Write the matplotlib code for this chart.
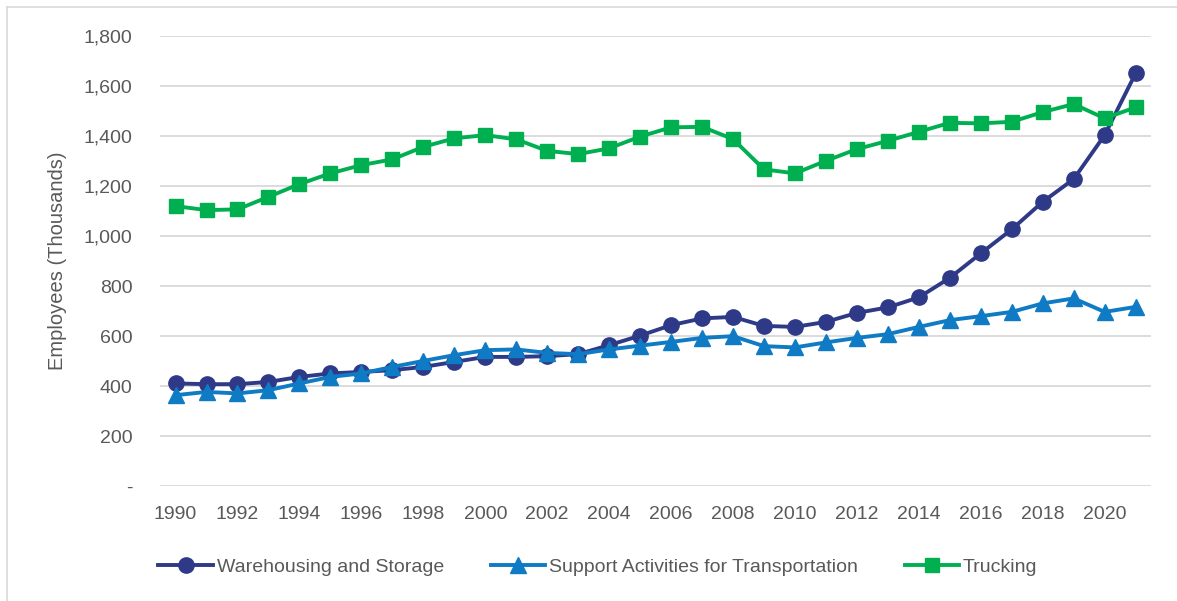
import matplotlib.pyplot as plt
from matplotlib.lines import Line2D
from matplotlib.ticker import FuncFormatter

plt.rcParams['font.family'] = ['Liberation Sans', 'DejaVu Sans']

years = list(range(1990, 2022))

warehousing = [411, 408, 408, 417, 437, 451, 457, 464, 477, 497, 517, 517, 520, 528, 564, 602,
               644, 671, 677, 641, 637, 657, 693, 715, 755, 833, 931, 1027, 1137, 1228, 1404, 1651]
support = [364, 377, 371, 384, 411, 437, 451, 477, 501, 524, 544, 547, 533, 528, 547, 562,
           577, 593, 600, 560, 555, 575, 593, 608, 637, 664, 680, 697, 731, 751, 697, 717]
trucking = [1120, 1104, 1107, 1157, 1208, 1251, 1284, 1307, 1357, 1391, 1404, 1387, 1341, 1328, 1351, 1398,
            1435, 1437, 1388, 1267, 1251, 1301, 1348, 1381, 1417, 1453, 1451, 1457, 1496, 1528, 1471, 1515]

labels = ['Warehousing and Storage', 'Support Activities for Transportation', 'Trucking']
colors = ['#2E3A87', '#0F7BC4', '#00B050']
markers = ['o', '^', 's']
msizes = [11, 11, 10.5]

fig = plt.figure(figsize=(11.77, 6.01), dpi=100)
ax = fig.add_axes([0.136, 0.191, 0.842, 0.749])

for vals, lab, col, mk, ms in zip([warehousing, support, trucking], labels, colors, markers, msizes):
    ax.plot(years, vals, color=col, marker=mk, markersize=ms,
            linewidth=2.8, label=lab, zorder=3)

ax.set_xlim(1989.5, 2021.5)
ax.set_ylim(0, 1800)
ax.set_xticks(years[::2])
ax.set_yticks(range(0, 1801, 200))
ax.yaxis.set_major_formatter(FuncFormatter(lambda v, p: '-' if v == 0 else f'{int(v):,}'))
ax.grid(axis='y', color='#D9D9D9', linewidth=1.3)
ax.set_axisbelow(True)
for s in ax.spines.values():
    s.set_visible(False)
ax.tick_params(axis='both', length=0, labelsize=14, colors='#595959')
ax.tick_params(axis='x', pad=14)
ax.tick_params(axis='y', pad=20)
ax.set_ylabel('Employees (Thousands)', fontsize=14.5, color='#595959', labelpad=12)

fig.legend(loc='center', bbox_to_anchor=(0.508, 0.057), ncol=3, frameon=False,
           fontsize=14, labelcolor='#595959', handlelength=2.8, handletextpad=0.2,
           columnspacing=2.4)

# light chart border (top and left)
fig.add_artist(Line2D([7 / 1177, 7 / 1177], [0, 1 - 7 / 601], transform=fig.transFigure,
                      color='#D9D9D9', linewidth=1.2))
fig.add_artist(Line2D([7 / 1177, 1], [1 - 7 / 601, 1 - 7 / 601], transform=fig.transFigure,
                      color='#D9D9D9', linewidth=1.2))

fig.savefig('out.png', dpi=100)
